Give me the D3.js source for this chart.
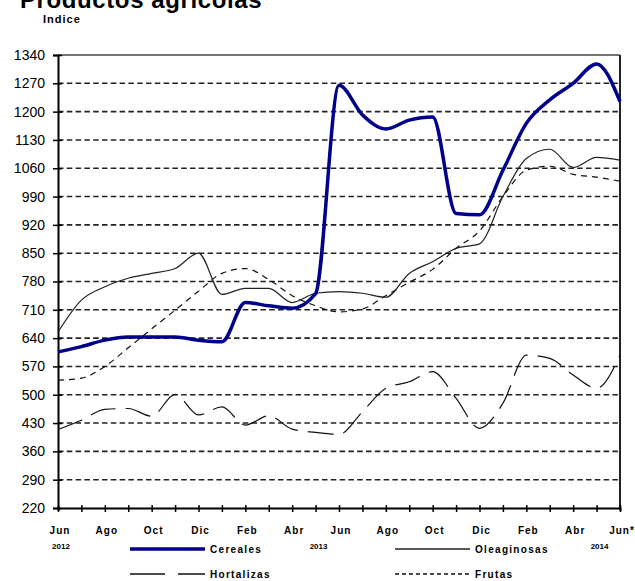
<!DOCTYPE html>
<html lang="es">
  <head>
    <meta charset="utf-8">
    <script src="https://d3js.org/d3.v7.min.js"></script>
    <title>Productos agrícolas</title>
    <style>
      body { margin: 0; background: #fff; }
      text { font-family: "Liberation Sans", Arial, sans-serif; fill: #000; }
    </style>
  </head>
  <body>
    <script>

    // meses jun 2012 .. jun 2014
    var months = ["Jun","Jul","Ago","Sep","Oct","Nov","Dic","Ene","Feb","Mar","Abr","May",
                  "Jun","Jul","Ago","Sep","Oct","Nov","Dic","Ene","Feb","Mar","Abr","May","Jun*"];
    var yearLabels = [["2012", 0], ["2013", 11], ["2014", 23]];
    var yTicks = [220,290,360,430,500,570,640,710,780,850,920,990,1060,1130,1200,1270,1340];

    var cereales    = [606,619,635,643,643,643,635,631,728,720,714,750,1265,1192,1157,1179,1187,948,945,1055,1171,1229,1270,1318,1225];
    var oleaginosas = [655,734,767,788,800,812,850,748,763,763,728,751,755,751,741,800,829,862,873,990,1084,1107,1062,1087,1080];
    var frutas      = [536,541,570,616,663,709,756,800,812,785,745,720,705,712,745,778,810,862,905,990,1055,1065,1045,1038,1028];
    var hortalizas  = [414,437,464,466,447,501,450,470,425,448,415,407,402,458,516,532,557,491,417,479,598,590,549,516,598];

    var margin = {top:55, left:58, bottom:73, right:15},
      width = 635 - margin.left - margin.right,
      height = 581 - margin.top - margin.bottom;

    var svg = d3.select("body").append("svg")
        .attr("width", 635)
        .attr("height", 581);

    var g = svg.append("g")
        .attr("transform", "translate(" + [margin.left, margin.top] + ")");

    var x = d3.scaleLinear().domain([0, months.length - 1]).range([0, width]);
    var y = d3.scaleLinear().domain([220, 1340]).range([height, 0]);

    // titulo (cortado arriba como en el original)
    svg.append("text")
        .attr("x", 20).attr("y", 8)
        .style("font-size", "24px").style("font-weight", "bold")
        .style("letter-spacing", "0.6px")
        .text("Productos agrícolas");
    svg.append("text")
        .attr("x", 43).attr("y", 23)
        .style("font-size", "11px").style("font-weight", "bold")
        .style("letter-spacing", "1px")
        .text("Indice");

    // grilla
    g.selectAll(".grid")
        .data(yTicks.slice(1, -1))
        .enter().append("line")
        .attr("x1", 0).attr("x2", width)
        .attr("y1", d => y(d)).attr("y2", d => y(d))
        .attr("stroke", "#222")
        .attr("stroke-width", 1.6)
        .attr("stroke-dasharray", "5.5,3.3");

    // marco superior y derecho
    g.append("line").attr("x1", 0).attr("x2", width).attr("y1", 0).attr("y2", 0)
        .attr("stroke", "#444").attr("stroke-width", 1.5);
    g.append("line").attr("x1", width).attr("x2", width).attr("y1", 0).attr("y2", height)
        .attr("stroke", "#222").attr("stroke-width", 2);

    // eje y
    var yAxis = g.append("g")
        .call(d3.axisLeft(y).tickValues(yTicks).tickFormat(d3.format("d"))
          .tickSize(5).tickPadding(8));
    yAxis.select(".domain").attr("stroke", "#000").attr("stroke-width", 2);
    yAxis.selectAll(".tick line").attr("stroke", "#000").attr("stroke-width", 1.5)
        .attr("x2", -5).attr("x1", 4);
    yAxis.selectAll(".tick text")
        .style("font-family", "'Liberation Sans', Arial, sans-serif")
        .style("font-size", "14px");

    // eje x
    var xAxis = g.append("g")
        .attr("transform", "translate(0," + height + ")")
        .call(d3.axisBottom(x).tickValues(d3.range(months.length))
          .tickSize(3).tickFormat(""));
    xAxis.select(".domain").attr("stroke", "#000").attr("stroke-width", 2);
    xAxis.selectAll(".tick line").attr("stroke", "#000").attr("stroke-width", 1.5)
        .attr("y1", -3).attr("y2", 4);

    g.selectAll(".mlabel")
        .data(months.map((m, i) => [m, i]).filter(d => d[1] % 2 == 0))
        .enter().append("text")
        .attr("x", d => x(d[1]) + 2)
        .attr("y", height + 26)
        .attr("text-anchor", "middle")
        .style("font-size", "10px").style("font-weight", "bold")
        .style("letter-spacing", "1px")
        .text(d => d[0]);

    g.selectAll(".ylabel")
        .data(yearLabels)
        .enter().append("text")
        .attr("x", d => x(d[1]) + 3)
        .attr("y", height + 41)
        .attr("text-anchor", "middle")
        .style("font-size", "8px").style("font-weight", "bold")
        .text(d => d[0]);

    // series
    var series = [
      {name: "Cereales", values: cereales, color: "#00008b", w: 3.5, dash: null},
      {name: "Oleaginosas", values: oleaginosas, color: "#222", w: 1.2, dash: null},
      {name: "Hortalizas", values: hortalizas, color: "#111", w: 1.2, dash: "26,10"},
      {name: "Frutas", values: frutas, color: "#111", w: 1.2, dash: "6,5"}
    ];

    var line = d3.line()
        .x((d, i) => x(i))
        .y(d => y(d))
        .curve(d3.curveMonotoneX);

    g.selectAll(".serie")
        .data(series.slice().reverse())
        .enter().append("path")
        .attr("fill", "none")
        .attr("stroke", d => d.color)
        .attr("stroke-width", d => d.w)
        .attr("stroke-dasharray", d => d.dash)
        .attr("stroke-linejoin", "round")
        .attr("d", d => line(d.values));

    // leyenda
    var legendPos = [[130, 549], [395, 549], [130, 574], [395, 574]];
    var legendDash = [null, null, "35,13", "4,3"];
    series.forEach(function(s, i) {
      var p = legendPos[i];
      svg.append("line")
          .attr("x1", p[0]).attr("x2", p[0] + 75)
          .attr("y1", p[1]).attr("y2", p[1])
          .attr("stroke", s.color)
          .attr("stroke-width", i == 0 ? 3.5 : 1.3)
          .attr("stroke-dasharray", legendDash[i]);
      svg.append("text")
          .attr("x", p[0] + 80).attr("y", p[1] + 4)
          .style("font-size", "10px").style("font-weight", "bold")
          .style("letter-spacing", "1.3px")
          .text(s.name);
    });

    </script>
  </body>
</html>
